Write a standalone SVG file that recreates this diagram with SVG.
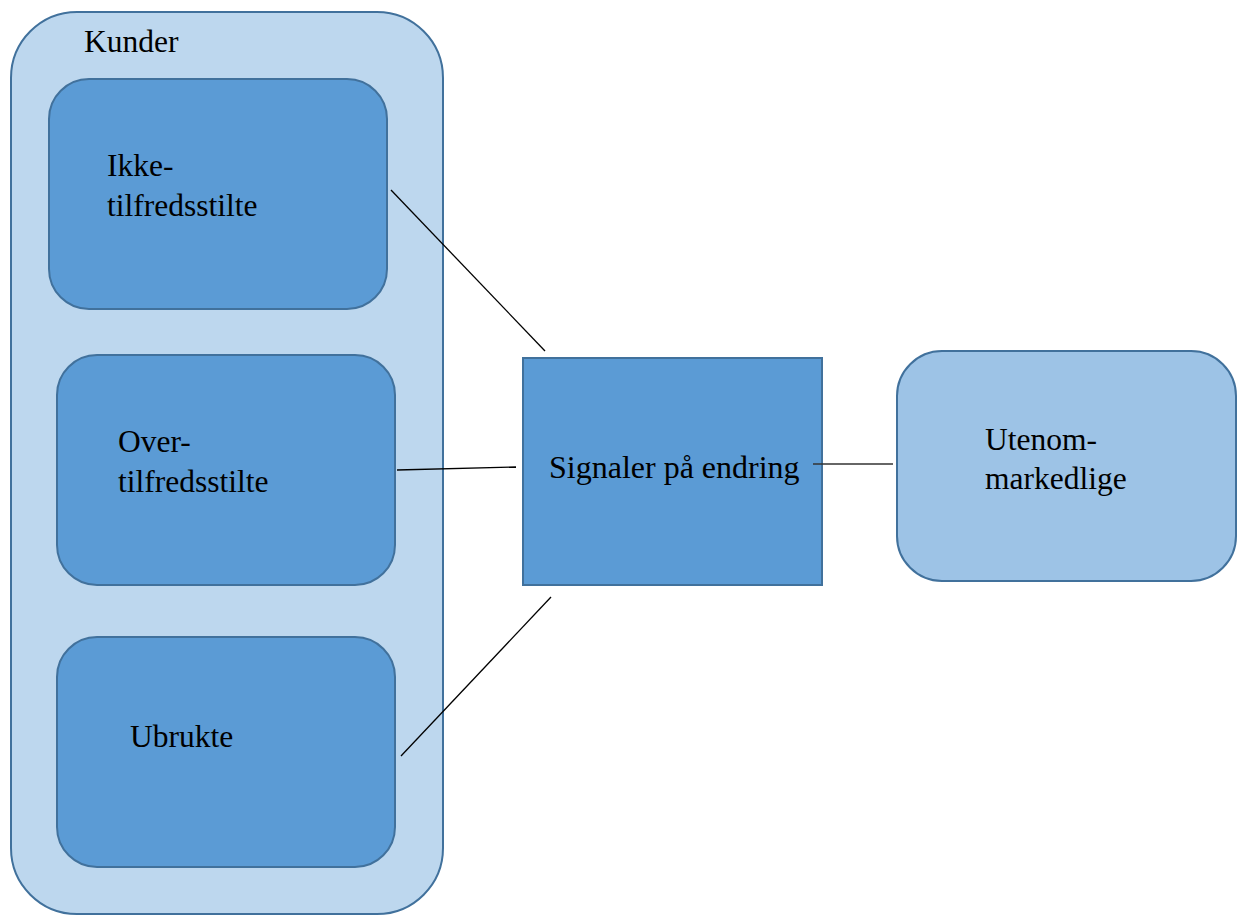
<svg xmlns="http://www.w3.org/2000/svg" width="1240" height="915" viewBox="0 0 1240 915">
<style>
.t{font-family:'Liberation Serif','DejaVu Serif',serif;font-size:31.5px;fill:#000}
.outer{fill:#BDD7EE;stroke:#41719C;stroke-width:2}
.inner{fill:#5B9BD5;stroke:#41719C;stroke-width:2}
.light{fill:#9DC3E6;stroke:#41719C;stroke-width:2}
.c{stroke:#000;stroke-width:1.3;fill:none}
</style>
<rect width="1240" height="915" fill="#fff"/>
<g id="kunder">
<rect class="outer" x="11" y="12" width="432" height="902" rx="66" ry="66"/>
<text class="t" x="84" y="52">Kunder</text>
</g>
<g id="ikke">
<rect class="inner" x="49" y="79" width="338" height="230" rx="40" ry="40"/>
<text class="t" x="107" y="176">Ikke-</text>
<text class="t" x="107" y="216">tilfredsstilte</text>
</g>
<g id="over">
<rect class="inner" x="57" y="355" width="338" height="230" rx="40" ry="40"/>
<text class="t" x="118" y="452">Over-</text>
<text class="t" x="118" y="492">tilfredsstilte</text>
</g>
<g id="ubrukte">
<rect class="inner" x="57" y="637" width="338" height="230" rx="40" ry="40"/>
<text class="t" x="130" y="747">Ubrukte</text>
</g>
<g id="signaler">
<rect class="inner" x="523" y="358" width="299" height="227"/>
<text class="t" x="549" y="478" style="font-size:32px">Signaler på endring</text>
</g>
<g id="utenom">
<rect class="light" x="897" y="351" width="339" height="230" rx="45" ry="45"/>
<text class="t" x="985" y="450">Utenom-</text>
<text class="t" x="985" y="489">markedlige</text>
</g>
<g id="connectors">
<line class="c" x1="391" y1="190" x2="545" y2="351"/>
<line class="c" x1="397" y1="470" x2="516" y2="467"/>
<line class="c" x1="401" y1="756" x2="551" y2="597"/>
<line x1="813" y1="464" x2="893" y2="464" stroke="#333" stroke-width="1.6"/>
</g>
</svg>
